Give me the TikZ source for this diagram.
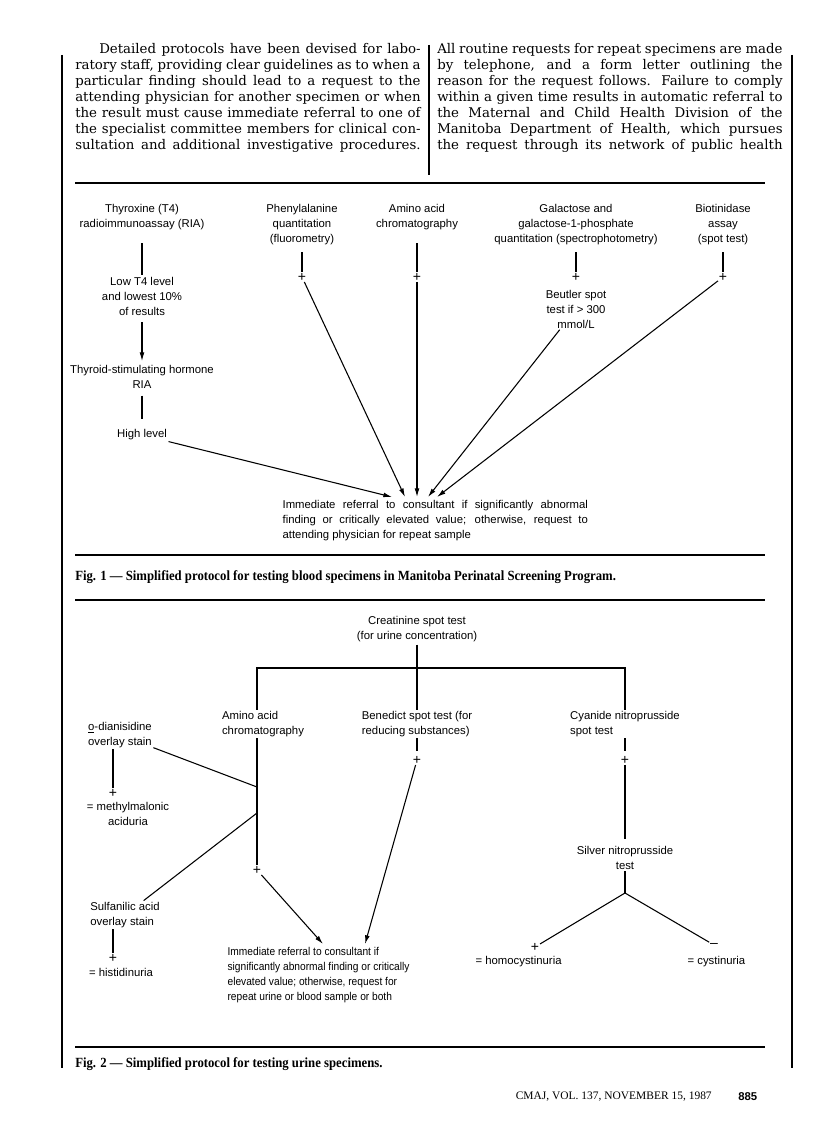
\documentclass[tikz,border=0pt]{standalone}
\usepackage{fontspec}
\setmainfont{DejaVu Serif}
\setsansfont{Liberation Sans}
\newfontfamily\capfont{Liberation Serif}
\newfontfamily\capnarrow[FakeStretch=0.91]{Liberation Serif}
\newfontfamily\narrowsf[FakeStretch=0.9]{Liberation Sans}
\usetikzlibrary{arrows.meta,calc}

\newcommand{\bodyline}[1]{\makebox[259pt][s]{#1}}
\newcommand{\refline}[1]{\makebox[229pt][s]{#1}}

\begin{document}
\begin{tikzpicture}[
  x=0.75pt,y=-0.75pt,
  lbl/.style={font=\sffamily\fontsize{8.5}{11.25}\selectfont,align=center,inner sep=1pt},
  lbll/.style={lbl,align=left},
  sign/.style={lbl,font=\sffamily\fontsize{10.5}{11}\selectfont,inner sep=0.5pt},
  body/.style={font=\fontsize{10}{12}\selectfont,align=left,inner sep=0pt,anchor=north west},
  caption/.style={font=\capnarrow\bfseries\fontsize{10.5}{12}\selectfont,inner sep=0pt,anchor=west},
  link/.style={line width=0.8pt},
  arrow/.style={link,-{Latex[length=6.5pt,width=3.6pt]}},
  rule/.style={line width=1.6pt},
  border/.style={line width=0.9pt},
]
\useasboundingbox (0,0) rectangle (816,1137);
\fill[white] (0,0) rectangle (816,1137);

% page frame and text columns
\draw[border] (62,55) -- (62,1068);
\draw[border] (792,55) -- (792,1068);
\draw[border] (429,45) -- (429,175);

\node[body] (colleft) at (75,43) {%
\bodyline{\hspace*{18pt}Detailed protocols have been devised for labo-}\\
\bodyline{ratory staff, providing clear guidelines as to when a}\\
\bodyline{particular finding should lead to a request to the}\\
\bodyline{attending physician for another specimen or when}\\
\bodyline{the result must cause immediate referral to one of}\\
\bodyline{the specialist committee members for clinical con-}\\
\bodyline{sultation and additional investigative procedures.}};
\node[body] (colright) at (437,43) {%
\bodyline{All routine requests for repeat specimens are made}\\
\bodyline{by telephone, and a form letter outlining the}\\
\bodyline{reason for the request follows. Failure to comply}\\
\bodyline{within a given time results in automatic referral to}\\
\bodyline{the Maternal and Child Health Division of the}\\
\bodyline{Manitoba Department of Health, which pursues}\\
\bodyline{the request through its network of public health}};

% Fig. 1 -- blood specimens
\draw[rule] (75,183) -- (765,183);
\node[lbl] (thyrox) at (142,217) {Thyroxine (T4)\\radioimmunoassay (RIA)};
\node[lbl] (lowt4) at (142,296) {Low T4 level\\and lowest 10\%\\of results};
\node[lbl] (tsh) at (142,377) {Thyroid-stimulating hormone\\RIA};
\node[lbl] (high) at (142,435) {High level};
\node[lbl] (phenyl) at (302,225) {Phenylalanine\\quantitation\\(fluorometry)};
\node[sign] (phenylplus) at (302,277) {+};
\node[lbl] (aminob) at (417,217) {Amino acid\\chromatography};
\node[sign] (aminobplus) at (417,277) {+};
\node[lbl] (galac) at (576,225) {Galactose and\\galactose-1-phosphate\\quantitation (spectrophotometry)};
\node[sign] (galacplus) at (576,277) {+};
\node[lbl] (beutler) at (576,309) {Beutler spot\\test if \textgreater\ 300\\mmol/L};
\node[lbl] (biotin) at (723,225) {Biotinidase\\assay\\(spot test)};
\node[sign] (biotinplus) at (723,277) {+};
\node[lbl,align=left,anchor=north west] (refblood) at (281,499) {%
\refline{Immediate referral to consultant if significantly abnormal}\\
\refline{finding or critically elevated value; otherwise, request to}\\
attending physician for repeat sample};
\coordinate (inhigh) at ($(refblood.north west)+(111,-2)$);
\coordinate (inphenyl) at ($(refblood.north west)+(124,-2)$);
\coordinate (inamino) at ($(refblood.north west)+(136,-2)$);
\coordinate (inbeutler) at ($(refblood.north west)+(147,-2)$);
\coordinate (inbiotin) at ($(refblood.north west)+(156,-2)$);

\draw[link,shorten <=9pt] (thyrox) -- (lowt4);
\draw[arrow,shorten <=4pt,shorten >=2pt] (lowt4) -- (tsh);
\draw[link,shorten <=4pt,shorten >=7pt] (tsh) -- (high);
\draw[arrow] (high) -- (inhigh);
\draw[link,shorten <=4pt] (phenyl) -- (phenylplus);
\draw[arrow] (phenylplus) -- (inphenyl);
\draw[link,shorten <=9pt] (aminob) -- (aminobplus);
\draw[arrow] (aminobplus) -- (inamino);
\draw[link,shorten <=4pt] (galac) -- (galacplus);
\draw[arrow] (beutler) -- (inbeutler);
\draw[link,shorten <=4pt] (biotin) -- (biotinplus);
\draw[arrow] (biotinplus) -- (inbiotin);

\draw[rule] (75,555) -- (765,555);
\node[caption] (figone) at (75,577) {Fig. 1 — Simplified protocol for testing blood specimens in Manitoba Perinatal Screening Program.};

% Fig. 2 -- urine specimens
\draw[rule] (75,600) -- (765,600);
\node[lbl] (creat) at (417,629) {Creatinine spot test\\(for urine concentration)};
\coordinate (barleft) at (257,668);
\coordinate (barright) at (625,668);
\node[lbll] (aminou) at (263,724) {Amino acid\\chromatography};
\node[lbll] (bened) at (417,724) {Benedict spot test (for\\reducing substances)};
\node[lbll] (cyanide) at (625,724) {Cyanide nitroprusside\\spot test};
\node[sign] (benedplus) at (417,760) {+};
\node[sign] (cyanideplus) at (625,760) {+};
\node[lbl] (silver) at (625,858) {Silver nitroprusside\\test};
\coordinate (silverfork) at (625,893);
\node[sign] (homoplus) at (535,947) {+};
\node[sign] (cystminus) at (714,945) {\textendash};
\node[lbl,anchor=west] (homocyst) at (474,962) {= homocystinuria};
\node[lbl,anchor=west] (cystin) at (686,962) {= cystinuria};
\node[sign] (aminouplus) at (257,870) {+};
\coordinate (joinupper) at (257,787);
\coordinate (joinlower) at (257,813);
\node[lbll] (dianis) at (120,735) {\underline{o}-dianisidine\\overlay stain};
\node[sign] (dianisplus) at (113,793) {+};
\node[lbl] (methyl) at (128,814) {= methylmalonic\\aciduria};
\node[lbll] (sulfan) at (125,915) {Sulfanilic acid\\overlay stain};
\node[sign] (sulfanplus) at (113,958) {+};
\node[lbl] (histid) at (121,972) {= histidinuria};
\node[lbll,font=\narrowsf\fontsize{8.5}{11.25}\selectfont,anchor=north west] (refurine) at (226,946) {%
Immediate referral to consultant if\\
significantly abnormal finding or critically\\
elevated value; otherwise, request for\\
repeat urine or blood sample or both};
\coordinate (inaminou) at ($(refurine.north west)+(97,-2)$);
\coordinate (inbened) at ($(refurine.north west)+(139,-2)$);

\draw[link,shorten <=1pt] (creat) -- (bened);
\draw[link] (barleft |- aminou.north) -- (barleft) -- (barright) -- (barright |- cyanide.north);
\draw[link] (barleft |- aminou.south) -- (aminouplus);
\draw[link,shorten >=3pt] (bened) -- (benedplus);
\draw[arrow] (benedplus) -- (inbened);
\draw[arrow] (aminouplus) -- (inaminou);
\draw[link,shorten >=3pt] (cyanide) -- (cyanideplus);
\draw[link,shorten >=4pt] (cyanideplus) -- (silver);
\draw[link] (silver) -- (silverfork);
\draw[link] (silverfork) -- (homoplus);
\draw[link] (silverfork) -- (cystminus);
\draw[link] (dianis) -- (joinupper);
\draw[link] (dianisplus |- dianis.south) -- (dianisplus);
\draw[link] (joinlower) -- (sulfan);
\draw[link] (sulfanplus |- sulfan.south) -- (sulfanplus);

\draw[rule] (75,1047) -- (765,1047);
\node[caption] (figtwo) at (75,1064) {Fig. 2 — Simplified protocol for testing urine specimens.};

% running foot
\node[font=\capfont\fontsize{8.6}{11}\selectfont,inner sep=0pt,anchor=east] (journal) at (712,1097) {CMAJ, VOL. 137, NOVEMBER 15, 1987};
\node[font=\sffamily\bfseries\fontsize{8.5}{10}\selectfont,inner sep=0pt,anchor=west] (pagenum) at (738,1097) {885};
\end{tikzpicture}
\end{document}
